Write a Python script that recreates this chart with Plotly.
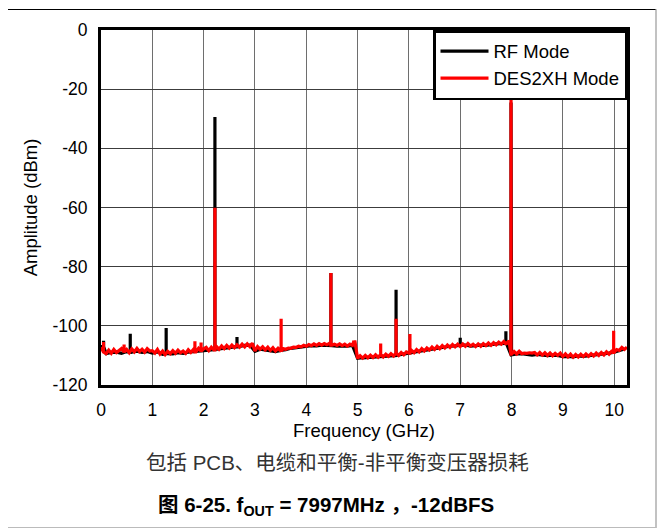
import plotly.graph_objects as go

# ---------------- data ----------------
# red (DES2XH Mode) noise floor, 0.05 GHz step from 0.00 to 10.25 GHz
red_floor_start = 0.0
red_floor_step = 0.05
red_floor = [
    -107.2, -108.9, -109.4, -108.2, -109.3, -108.0, -109.0, -108.3, -107.7, -108.9,
    -108.0, -109.1, -107.8, -108.8, -107.6, -108.7, -107.9, -108.9, -107.7, -108.5,
    -108.4, -109.2, -108.0, -109.5, -108.5, -109.7, -108.6, -109.4, -108.4, -109.3,
    -108.2, -109.1, -108.5, -109.3, -108.1, -109.0, -108.0, -108.8, -107.6, -108.6,
    -107.8, -107.3, -108.4, -107.2, -108.1, -107.0, -107.9, -106.8, -107.7, -106.6,
    -107.5, -106.5, -107.4, -106.4, -107.2, -106.2, -107.1, -106.1, -107.0, -105.9,
    -108.5, -107.0, -107.9, -107.1, -108.1, -107.2, -108.3, -107.4, -108.5, -107.6,
    -108.6, -107.7, -107.9, -107.5, -107.6, -107.2, -107.3, -106.9, -107.1, -106.6,
    -106.9, -106.3, -106.7, -106.1, -106.6, -106.0, -106.5, -106.0, -106.4, -105.9,
    -106.5, -106.2, -106.6, -106.1, -106.7, -106.2, -106.8, -106.2, -106.6, -105.4,
    -111.0, -110.1, -110.9, -110.0, -110.8, -109.9, -110.7, -109.8, -110.6, -109.7,
    -110.5, -109.6, -110.3, -109.4, -110.2, -109.2, -110.0, -109.0, -109.8, -108.8,
    -109.2, -108.3, -109.1, -108.0, -108.8, -107.7, -108.5, -107.5, -108.2, -107.2,
    -108.0, -106.9, -107.7, -106.7, -107.5, -106.5, -107.3, -106.3, -107.1, -106.2,
    -107.0, -106.1, -106.9, -106.0, -106.8, -106.2, -107.0, -106.1, -106.9, -106.0,
    -106.7, -105.8, -106.6, -105.7, -106.4, -105.5, -106.2, -105.3, -106.0, -105.1,
    -109.6, -108.7, -109.5, -108.6, -109.4, -109.2, -109.3, -109.1, -109.2, -109.0,
    -109.8, -109.0, -109.9, -109.1, -110.0, -109.2, -110.1, -109.3, -110.0, -109.2,
    -110.4, -109.5, -110.5, -109.6, -110.6, -109.7, -110.5, -109.6, -110.4, -109.5,
    -110.3, -109.4, -110.2, -109.2, -110.0, -109.0, -109.8, -108.8, -109.6, -108.6,
    -109.0, -108.0, -108.3, -107.3, -108.0, -107.2,
]

# black (RF Mode) noise floor, 0.1 GHz step from 0.0 to 10.2 GHz
black_floor_start = 0.0
black_floor_step = 0.1
black_floor = [
    -107.0, -109.4, -109.0, -108.9, -109.3, -108.7, -108.9, -108.6, -109.0, -108.7,
    -109.2, -108.8, -109.6, -109.4, -109.5, -109.1, -109.3, -108.9, -108.7, -108.6,
    -108.4, -108.2, -108.0, -107.8, -107.7, -107.4, -107.1, -107.0, -106.6, -106.5,
    -108.6, -107.9, -108.1, -108.4, -108.7, -108.3, -108.1, -107.6, -107.4, -107.1,
    -106.9, -106.7, -106.8, -106.5, -106.6, -106.7, -106.9, -106.8, -106.9, -106.6,
    -111.0, -110.8, -110.7, -110.6, -110.5, -110.3, -110.2, -110.0, -109.8, -109.6,
    -109.2, -108.9, -108.6, -108.3, -108.1, -107.7, -107.4, -107.1, -106.9, -106.8,
    -106.6, -106.5, -106.9, -106.7, -106.5, -106.6, -106.3, -106.1, -106.0, -105.9,
    -109.8, -109.5, -109.4, -109.7, -109.9, -109.7, -110.0, -110.1, -109.9, -110.0,
    -110.4, -110.3, -110.5, -110.2, -110.3, -110.1, -109.9, -109.8, -109.5, -109.2,
    -108.9, -108.4, -107.8,
]

# spurs (GHz, dBm)
black_spur_freq = [0.05, 0.57, 1.27, 2.22, 2.65, 4.48, 5.75, 7.00, 7.89, 7.99]
black_spur_peak = [-105.0, -102.7, -100.7, -29.4, -103.8, -82.1, -87.8, -104.0, -101.8, -24.5]

red_spur_freq = [0.05, 0.45, 1.83, 1.95, 2.22, 3.51, 4.48, 4.93, 5.45, 5.75, 6.02, 7.89, 7.99, 9.99]
red_spur_peak = [-105.5, -106.3, -105.2, -105.6, -60.1, -97.6, -82.1, -105.0, -106.0, -97.6, -102.8, -105.5, -23.6, -101.7]

x_ticks = [0, 1, 2, 3, 4, 5, 6, 7, 8, 9, 10]
y_ticks = [0, -20, -40, -60, -80, -100, -120]


def build_trace(start, step, floor, spur_f, spur_p):
    pts = [(start + i * step, v) for i, v in enumerate(floor)]
    for f, p in zip(spur_f, spur_p):
        idx = min(range(len(pts)), key=lambda k: abs(pts[k][0] - f))
        base = pts[idx][1]
        pts.append((f, base))
        pts.append((f + 1e-9, p))
        pts.append((f + 2e-9, base))
    pts.sort(key=lambda t: t[0])
    return [t[0] for t in pts], [t[1] for t in pts]


bx, by = build_trace(black_floor_start, black_floor_step, black_floor, black_spur_freq, black_spur_peak)
rx, ry = build_trace(red_floor_start, red_floor_step, red_floor, red_spur_freq, red_spur_peak)

FONT = "Liberation Sans, Arial, sans-serif"
CJK = "Liberation Sans, Noto Sans CJK SC, sans-serif"

fig = go.Figure()
fig.add_trace(go.Scatter(x=bx, y=by, mode="lines", name="RF Mode",
                         line=dict(color="black", width=3.2)))
fig.add_trace(go.Scatter(x=rx, y=ry, mode="lines", name="DES2XH Mode",
                         line=dict(color="#ff0000", width=3.2)))

# page is offset by the 8px body margin
OFF = 8
W, H = 665 - OFF, 529 - OFF
# plot area in page pixels: x 101..627, y 30..385
L, R, T, B = 101 - OFF, 627 - OFF, 30 - OFF, 385 - OFF
pw, ph = R - L, B - T


def px(x):
    return (x - OFF - L) / pw


def py(y):
    return (B - (y - OFF)) / ph


shapes = [
    dict(type="line", xref="paper", yref="paper", x0=px(8), x1=px(656), y0=py(9.5), y1=py(9.5),
         line=dict(color="black", width=1.2)),
    dict(type="line", xref="paper", yref="paper", x0=px(656), x1=px(656), y0=py(9), y1=py(528),
         line=dict(color="#999999", width=1.2)),
    dict(type="line", xref="paper", yref="paper", x0=px(8), x1=px(656), y0=py(527.5), y1=py(527.5),
         line=dict(color="#bbbbbb", width=1.2)),
]

annotations = [
    dict(text="包括 PCB、电缆和平衡-非平衡变压器损耗", xref="paper", yref="paper",
         x=px(337), y=py(462), xanchor="center", yanchor="middle", showarrow=False,
         font=dict(family=CJK, size=20.5, color="#333333")),
    dict(text="<b>图 6-25. f<sub>OUT</sub> = 7997MHz ，-12dBFS</b>", xref="paper", yref="paper",
         x=px(326), y=py(506), xanchor="center", yanchor="middle", showarrow=False,
         font=dict(family=CJK, size=20.5, color="black")),
]

fig.update_layout(
    width=W, height=H,
    margin=dict(l=L, r=W - R, t=T, b=H - B, pad=0),
    paper_bgcolor="white", plot_bgcolor="white",
    font=dict(family=FONT, size=17, color="black"),
    showlegend=True,
    legend=dict(x=1, y=1, xanchor="right", yanchor="top",
                bgcolor="white", bordercolor="black", borderwidth=2.5,
                font=dict(family=FONT, size=18.5, color="black"),
                itemwidth=48, tracegroupgap=0),
    shapes=shapes,
    annotations=annotations,
)

fig.update_xaxes(range=[0, 10.25], tickvals=x_ticks, ticktext=[str(v) for v in x_ticks],
                 showgrid=True, gridcolor="#6e6e6e", gridwidth=1.2,
                 showline=True, linecolor="black", linewidth=3, mirror=True,
                 ticks="", zeroline=False, ticklabelstandoff=7,
                 tickfont=dict(size=17.5),
                 title=dict(text="Frequency (GHz)", font=dict(size=18.5), standoff=4))
fig.update_yaxes(range=[-120, 0], tickvals=y_ticks, ticktext=[str(v) for v in y_ticks],
                 showgrid=True, gridcolor="#3c3c3c", gridwidth=1.2,
                 showline=True, linecolor="black", linewidth=3, mirror=True,
                 ticks="", zeroline=False, ticklabelstandoff=7,
                 tickfont=dict(size=17.5),
                 title=dict(text="Amplitude (dBm)", font=dict(size=18.5), standoff=10))

fig.write_html("out.html")
